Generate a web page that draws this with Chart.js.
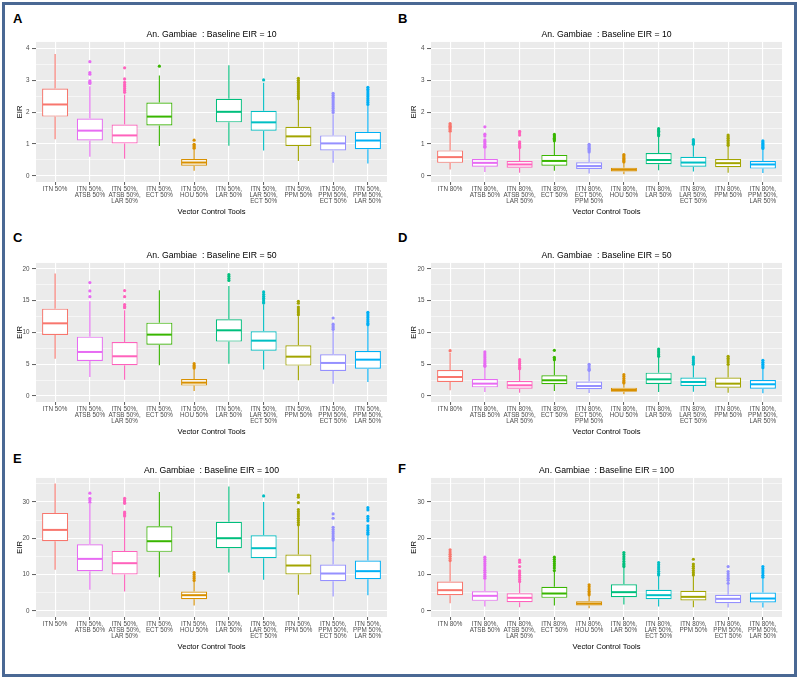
<!DOCTYPE html>
<html>
<head>
<meta charset="utf-8">
<script src="https://cdn.jsdelivr.net/npm/chart.js@4/dist/chart.umd.min.js"></script>
<style>
  html, body { margin: 0; padding: 0; background: #fff; }
  body { width: 800px; height: 679px; position: relative; overflow: hidden; font-family: "Liberation Sans", Arial, sans-serif; }
  .frame { position: absolute; left: 2px; top: 2px; width: 795px; height: 675px; box-sizing: border-box; border: 3px solid #4a6894; }
  .tag { position: absolute; font-weight: bold; font-size: 13px; line-height: 13px; color: #000; }
  canvas { position: absolute; }
</style>
</head>
<body>
<div class="frame"></div>
<div class="tag" style="left:13px;top:12px">A</div>
<div class="tag" style="left:398px;top:12px">B</div>
<div class="tag" style="left:13px;top:231px">C</div>
<div class="tag" style="left:398px;top:231px">D</div>
<div class="tag" style="left:13px;top:452px">E</div>
<div class="tag" style="left:398px;top:462px">F</div>
<canvas id="chartA" width="379" height="190" style="left:12px;top:26px"></canvas>
<canvas id="chartB" width="380" height="190" style="left:406px;top:26px"></canvas>
<canvas id="chartC" width="379" height="189" style="left:12px;top:247px"></canvas>
<canvas id="chartD" width="380" height="189" style="left:406px;top:247px"></canvas>
<canvas id="chartE" width="379" height="189" style="left:12px;top:462px"></canvas>
<canvas id="chartF" width="380" height="189" style="left:406px;top:462px"></canvas>
<script>
// category labels
const labels50 = [["ITN 50%"], ["ITN 50%,", "ATSB 50%"], ["ITN 50%,", "ATSB 50%,", "LAR 50%"], ["ITN 50%,", "ECT 50%"],
  ["ITN 50%,", "HOU 50%"], ["ITN 50%,", "LAR 50%"], ["ITN 50%,", "LAR 50%,", "ECT 50%"], ["ITN 50%,", "PPM 50%"],
  ["ITN 50%,", "PPM 50%,", "ECT 50%"], ["ITN 50%,", "PPM 50%,", "LAR 50%"]];
const labels80 = [["ITN 80%"], ["ITN 80%,", "ATSB 50%"], ["ITN 80%,", "ATSB 50%,", "LAR 50%"], ["ITN 80%,", "ECT 50%"],
  ["ITN 80%,", "ECT 50%,", "PPM 50%"], ["ITN 80%,", "HOU 50%"], ["ITN 80%,", "LAR 50%"], ["ITN 80%,", "LAR 50%,", "ECT 50%"],
  ["ITN 80%,", "PPM 50%"], ["ITN 80%,", "PPM 50%,", "LAR 50%"]];
const labels80F = [["ITN 80%"], ["ITN 80%,", "ATSB 50%"], ["ITN 80%,", "ATSB 50%,", "LAR 50%"], ["ITN 80%,", "ECT 50%"],
  ["ITN 80%,", "HOU 50%"], ["ITN 80%,", "LAR 50%"], ["ITN 80%,", "LAR 50%,", "ECT 50%"], ["ITN 80%,", "PPM 50%"],
  ["ITN 80%,", "PPM 50%,", "ECT 50%"], ["ITN 80%,", "PPM 50%,", "LAR 50%"]];

const colorsA = ["#F8766D", "#E76BF3", "#FF62BC", "#39B600", "#D89000", "#00BF7D", "#00BFC4", "#A3A500", "#9590FF", "#00B0F6"];
const colorsB = ["#F8766D", "#E76BF3", "#FF62BC", "#39B600", "#9590FF", "#D89000", "#00BF7D", "#00BFC4", "#A3A500", "#00B0F6"];

// y ticks
const ticksAB = [0, 1, 2, 3, 4], minorAB = [0.5, 1.5, 2.5, 3.5];
const ticksCD = [0, 5, 10, 15, 20], minorCD = [2.5, 7.5, 12.5, 17.5];
const ticksEF = [0, 10, 20, 30], minorEF = [5, 15, 25, 35];

// box stats: [lower whisker, Q1, median, Q3, upper whisker]
const statsA = [[1.15, 1.86, 2.24, 2.74, 3.82], [0.60, 1.11, 1.42, 1.80, 2.81], [0.54, 1.02, 1.27, 1.61, 2.55],
  [0.94, 1.58, 1.86, 2.30, 3.15], [0.16, 0.32, 0.42, 0.53, 0.84], [0.95, 1.68, 2.01, 2.42, 3.47],
  [0.80, 1.42, 1.68, 2.04, 2.92], [0.47, 0.94, 1.24, 1.54, 2.38], [0.41, 0.80, 1.02, 1.27, 1.93],
  [0.39, 0.84, 1.11, 1.38, 2.19]];
const outliersA = [[], [3.58, 3.24, 3.19, 2.98, 2.94, 2.90], [3.39, 3.04, 2.93, 2.86, 2.80, 2.74, 2.68, 2.62],
  [3.44], [1.12, 0.99, 0.95, 0.91, 0.87], [], [3.01],
  [3.06, 3.0, 2.94, 2.88, 2.82, 2.76, 2.70, 2.64, 2.58, 2.52, 2.46, 2.42],
  [2.59, 2.53, 2.47, 2.41, 2.35, 2.29, 2.23, 2.17, 2.11, 2.05, 1.99],
  [2.78, 2.72, 2.66, 2.60, 2.54, 2.48, 2.42, 2.36, 2.30, 2.24]];

const statsB = [[0.20, 0.41, 0.59, 0.80, 1.36], [0.12, 0.29, 0.41, 0.53, 0.87], [0.10, 0.26, 0.36, 0.47, 0.85],
  [0.16, 0.32, 0.47, 0.66, 1.08], [0.08, 0.22, 0.31, 0.43, 0.72], [0.05, 0.14, 0.20, 0.26, 0.42],
  [0.18, 0.37, 0.50, 0.72, 1.24], [0.14, 0.29, 0.42, 0.60, 0.97], [0.10, 0.27, 0.40, 0.53, 0.94],
  [0.09, 0.23, 0.36, 0.47, 0.84]];
const outliersB = [[1.64, 1.60, 1.56, 1.52, 1.48, 1.44, 1.40], [1.54, 1.31, 1.25, 1.13, 1.08, 1.03, 0.98, 0.93, 0.90],
  [1.40, 1.35, 1.28, 1.07, 1.02, 0.97, 0.92, 0.89], [1.30, 1.26, 1.22, 1.18, 1.14, 1.10],
  [0.99, 0.95, 0.91, 0.87, 0.83, 0.79, 0.75], [0.67, 0.63, 0.59, 0.55, 0.51, 0.47, 0.44],
  [1.48, 1.44, 1.40, 1.35, 1.30, 1.26], [1.14, 1.10, 1.06, 1.02, 0.99],
  [1.28, 1.23, 1.18, 1.12, 1.06, 1.01, 0.96], [1.10, 1.06, 1.02, 0.98, 0.94, 0.90, 0.86]];

const statsC = [[5.88, 9.61, 11.44, 13.75, 19.27], [2.99, 5.51, 6.93, 9.34, 14.9], [2.57, 4.83, 6.25, 8.50, 13.49],
  [4.83, 8.08, 9.66, 11.55, 16.64], [0.79, 1.63, 2.10, 2.68, 4.3], [5.09, 8.56, 10.34, 12.07, 17.32],
  [4.15, 7.14, 8.71, 10.18, 14.44], [2.47, 4.78, 6.19, 7.98, 12.55], [1.94, 3.94, 5.20, 6.56, 10.34],
  [2.20, 4.30, 5.72, 7.09, 11.08]];
const outliersC = [[], [17.85, 16.54, 15.64], [16.6, 15.64, 14.4, 14.1, 13.9], [], [5.09, 4.8, 4.6, 4.4],
  [19.1, 18.8, 18.5, 18.2], [16.38, 16.0, 15.7, 15.4, 15.1, 14.8, 14.65], [14.9, 14.6, 14.0, 13.7, 13.4, 13.1, 12.8],
  [12.28, 11.3, 11.0, 10.75, 10.5], [13.18, 12.9, 12.6, 12.3, 12.0, 11.7, 11.4, 11.23]];

const statsD = [[0.89, 2.20, 2.99, 4.09, 6.82], [0.63, 1.36, 1.94, 2.68, 4.57], [0.52, 1.15, 1.68, 2.36, 4.15],
  [0.79, 1.84, 2.47, 3.25, 5.62], [0.47, 1.05, 1.57, 2.26, 3.94], [0.26, 0.68, 0.94, 1.31, 1.94],
  [0.63, 1.89, 2.62, 3.67, 6.14], [0.68, 1.57, 2.20, 2.89, 4.83], [0.52, 1.31, 1.94, 2.89, 4.83],
  [0.42, 1.15, 1.84, 2.52, 4.30]];
const outliersD = [[7.14], [6.93, 6.6, 6.3, 6.0, 5.7, 5.4, 5.1, 4.85, 4.67], [5.72, 5.4, 5.1, 4.8, 4.5, 4.3],
  [7.19, 6.1, 5.85, 5.7], [4.99, 4.7, 4.4, 4.2, 4.04], [3.36, 3.05, 2.75, 2.45, 2.2, 2.05],
  [7.4, 7.1, 6.8, 6.5, 6.25], [6.14, 5.85, 5.55, 5.25, 4.99], [6.25, 5.95, 5.65, 5.35, 4.99],
  [5.62, 5.3, 5.0, 4.7, 4.46]];

const statsE = [[11.28, 19.17, 22.29, 26.97, 35.1], [5.78, 10.92, 14.31, 18.35, 29.45], [5.32, 10.0, 13.12, 16.51, 25.78],
  [9.27, 16.24, 19.17, 23.3, 32.75], [1.47, 3.21, 4.31, 5.32, 8.07], [10.55, 17.25, 20.0, 24.5, 34.22],
  [8.53, 14.5, 17.25, 20.83, 30.0], [4.40, 10.0, 12.48, 15.5, 23.4], [3.94, 8.17, 10.28, 12.75, 19.36],
  [4.31, 8.72, 10.92, 13.85, 20.8]];
const outliersE = [[], [32.4, 31.0, 30.5, 29.9], [31.0, 30.5, 30.0, 29.6, 27.2, 26.8, 26.4, 26.1], [],
  [10.55, 10.0, 9.4, 8.9, 8.35], [], [31.65],
  [31.9, 31.3, 29.8, 27.9, 27.3, 26.7, 26.1, 25.5, 24.9, 24.3, 23.7],
  [26.7, 25.5, 23.0, 22.4, 21.8, 21.2, 20.6, 20.0, 19.5],
  [28.4, 27.8, 26.0, 25.4, 24.8, 23.4, 22.8, 22.2, 21.6, 21.1]];

const statsF = [[2.11, 4.31, 5.69, 8.07, 13.58], [1.19, 2.75, 4.13, 5.41, 8.72], [1.01, 2.39, 3.58, 4.86, 7.8],
  [1.47, 3.58, 4.77, 6.61, 10.83], [0.73, 1.47, 2.02, 2.66, 4.13], [1.74, 3.76, 5.14, 7.34, 11.93],
  [1.19, 3.21, 4.31, 5.78, 9.63], [1.01, 2.84, 3.85, 5.5, 9.63], [0.92, 2.11, 3.30, 4.40, 7.43],
  [0.92, 2.29, 3.39, 5.05, 8.99]];
const outliersF = [[16.8, 16.2, 15.6, 15.0, 14.4, 13.85], [14.77, 14.2, 13.6, 13.0, 12.4, 11.8, 11.2, 10.6, 10.0, 9.5, 9.0],
  [14.0, 13.4, 12.2, 11.0, 10.4, 9.8, 9.2, 8.6, 8.07], [14.77, 14.2, 13.6, 13.0, 12.4, 11.8, 11.1],
  [7.16, 6.6, 6.0, 5.4, 4.9, 4.4], [16.06, 15.5, 14.9, 14.3, 13.6, 13.0, 12.6, 12.2],
  [13.3, 12.7, 12.1, 11.5, 10.9, 10.3, 9.9], [14.2, 12.9, 12.3, 11.7, 11.1, 10.5, 9.9],
  [12.2, 10.8, 10.2, 9.6, 9.0, 8.4, 7.6], [12.2, 11.6, 11.0, 10.4, 9.8, 9.27]];

Chart.defaults.font.family = "'Liberation Sans', Arial, sans-serif";

function drawPanel(id, title, labels, colors, stats, outliers, yMin, yMax, major, minor, yWidth) {
  const ctx = document.getElementById(id);
  const points = outliers.flatMap((o, i) => o.map(v => ({ x: i, y: v })));
  const isMajor = v => major.includes(v);

  // panel background, whiskers and medians
  const boxPlugin = {
    id: "boxes",
    beforeDraw(chart) {
      const { ctx: c, chartArea: a } = chart;
      c.save();
      c.fillStyle = "#EBEBEB";
      c.fillRect(a.left, a.top, a.right - a.left, a.bottom - a.top);
      c.restore();
    },
    beforeDatasetsDraw(chart) {
      const { ctx: c, scales: { x, y } } = chart;
      c.save();
      c.lineWidth = 1.1;
      stats.forEach((s, i) => {
        const cx = x.getPixelForValue(i);
        c.strokeStyle = colors[i];
        c.beginPath();
        c.moveTo(cx, y.getPixelForValue(s[0]));
        c.lineTo(cx, y.getPixelForValue(s[1]));
        c.moveTo(cx, y.getPixelForValue(s[3]));
        c.lineTo(cx, y.getPixelForValue(s[4]));
        c.stroke();
      });
      c.restore();
    },
    afterDatasetsDraw(chart) {
      const { ctx: c, scales: { y } } = chart;
      const bars = chart.getDatasetMeta(0).data;
      c.save();
      c.lineWidth = 2;
      stats.forEach((s, i) => {
        const { x: bx, width: bw } = bars[i].getProps(["x", "width"], true);
        const py = y.getPixelForValue(s[2]);
        c.strokeStyle = colors[i];
        c.beginPath();
        c.moveTo(bx - bw / 2 + 0.6, py);
        c.lineTo(bx + bw / 2 - 0.6, py);
        c.stroke();
      });
      c.restore();
    }
  };

  return new Chart(ctx, {
    type: "bar",
    data: {
      datasets: [
        {
          type: "bar",
          data: stats.map((s, i) => ({ x: i, y: [s[1], s[3]] })),
          backgroundColor: "#fff",
          borderColor: colors,
          borderWidth: 1.2,
          borderSkipped: false,
          barPercentage: 0.75,
          categoryPercentage: 1
        },
        {
          type: "scatter",
          data: points,
          pointRadius: 1.6,
          pointBorderWidth: 0,
          pointBackgroundColor: points.map(p => colors[p.x]),
          pointBorderColor: points.map(p => colors[p.x])
        }
      ]
    },
    options: {
      responsive: false,
      animation: false,
      events: [],
      layout: { padding: 0 },
      plugins: {
        legend: { display: false },
        tooltip: { enabled: false },
        title: {
          display: true, text: title, fullSize: false, color: "#000",
          font: { size: 8.7, weight: "normal" }, padding: { top: 3.5, bottom: 2 }
        }
      },
      scales: {
        x: {
          type: "linear", min: -0.55, max: 9.55, offset: false,
          afterBuildTicks: s => { s.ticks = labels.map((l, i) => ({ value: i })); },
          afterFit: s => { s.height = 34; },
          ticks: {
            autoSkip: false, maxRotation: 0, color: "#4d4d4d", padding: 1,
            font: { size: 6.3, lineHeight: 1 },
            callback: v => labels[v]
          },
          grid: { offset: false, color: "#fff", lineWidth: 1.1, tickColor: "#333", tickLength: 3, tickWidth: 0.8 },
          border: { display: false },
          title: { display: true, text: "Vector Control Tools", color: "#000", font: { size: 7.6 }, padding: { top: 0, bottom: 0 } }
        },
        y: {
          min: yMin, max: yMax,
          afterBuildTicks: s => { s.ticks = [...major, ...minor].sort((a, b) => a - b).map(v => ({ value: v })); },
          afterFit: s => { s.width = yWidth; },
          ticks: {
            color: "#4d4d4d", padding: 2.5, font: { size: 6.3 },
            callback: v => (isMajor(v) ? String(v) : "")
          },
          grid: {
            color: "#fff",
            lineWidth: c => (c.tick && isMajor(c.tick.value) ? 1.1 : 0.55),
            tickColor: c => (c.tick && isMajor(c.tick.value) ? "#333" : "rgba(0,0,0,0)"),
            tickLength: 4, tickWidth: 0.8
          },
          border: { display: false },
          title: { display: true, text: "EIR", color: "#000", font: { size: 7.6 }, padding: { top: 3.2, bottom: 0 } }
        }
      }
    },
    plugins: [boxPlugin]
  });
}

drawPanel("chartA", "An. Gambiae  : Baseline EIR = 10", labels50, colorsA, statsA, outliersA, -0.19, 4.2, ticksAB, minorAB, 24);
drawPanel("chartB", "An. Gambiae  : Baseline EIR = 10", labels80, colorsB, statsB, outliersB, -0.19, 4.2, ticksAB, minorAB, 25);
drawPanel("chartC", "An. Gambiae  : Baseline EIR = 50", labels50, colorsA, statsC, outliersC, -0.95, 20.95, ticksCD, minorCD, 24);
drawPanel("chartD", "An. Gambiae  : Baseline EIR = 50", labels80, colorsB, statsD, outliersD, -0.95, 20.95, ticksCD, minorCD, 25);
drawPanel("chartE", "An. Gambiae  : Baseline EIR = 100", labels50, colorsA, statsE, outliersE, -1.7, 36.6, ticksEF, minorEF, 24);
drawPanel("chartF", "An. Gambiae  : Baseline EIR = 100", labels80F, colorsA, statsF, outliersF, -1.7, 36.6, ticksEF, minorEF, 25);
</script>
</body>
</html>
